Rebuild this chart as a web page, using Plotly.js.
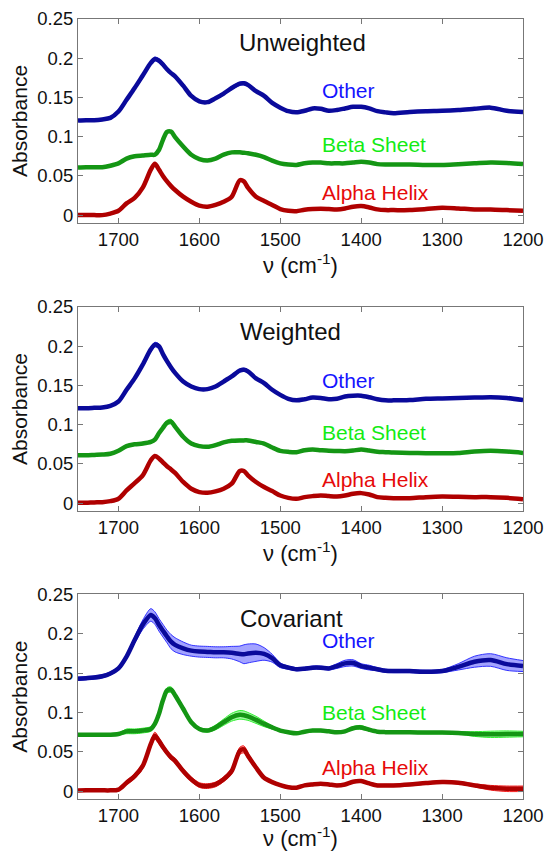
<!DOCTYPE html>
<html>
<head>
<meta charset="utf-8">
<script src="https://cdn.plot.ly/plotly-3.0.1.min.js"></script>
<style>html,body{margin:0;padding:0;background:#fff;}#chart{width:545px;height:851px;}</style>
</head>
<body>
<div id="chart"></div>
<script>
// Wavenumber grid (cm^-1)
const wavenumber = [1750,1740,1730,1720,1710,1700,1690,1680,1670,1660,1655,1650,1645,1640,1635,1630,1620,1610,1600,1590,1580,1570,1560,1550,1545,1540,1530,1520,1510,1500,1490,1480,1470,1460,1450,1440,1430,1420,1410,1400,1390,1380,1370,1360,1340,1320,1300,1280,1260,1240,1220,1200];

// Panel titles and series names
const panelTitles = ["Unweighted", "Weighted", "Covariant"];
const seriesNames = ["Other", "Beta Sheet", "Alpha Helix"];
const xTicks = [1700,1600,1500,1400,1300,1200];
const yTicks = [0,0.05,0.1,0.15,0.2,0.25];
const yTickText = ['0','0.05','0.1','0.15','0.2','0.25'];

// Unweighted
const U_other = [.1205,.121,.121,.122,.124,.132,.147,.162,.178,.194,.199,.197,.192,.186,.181,.177,.165,.152,.145,.144,.149,.155,.162,.1675,.168,.166,.158,.152,.143,.137,.1325,.131,.133,.136,.1355,.133,.134,.136,.138,.138,.136,.1325,.131,.130,.1315,.1325,.133,.134,.1355,.137,.133,.1315];
const U_other_err = [.001,.001,.001,.001,.001,.001,.0015,.002,.002,.002,.0025,.0025,.0025,.0025,.002,.002,.0015,.0015,.0015,.0015,.0015,.0015,.002,.002,.002,.002,.0015,.0015,.0015,.001,.001,.001,.001,.001,.001,.001,.001,.001,.001,.001,.001,.001,.001,.001,.001,.001,.001,.001,.0015,.0015,.0015,.001];
const U_beta = [.0607,.061,.061,.061,.063,.066,.072,.075,.076,.077,.077,.083,.096,.106,.1065,.0995,.0875,.077,.0715,.0695,.072,.077,.080,.080,.0795,.079,.077,.074,.0695,.066,.0645,.064,.066,.067,.067,.066,.066,.066,.067,.068,.067,.065,.0645,.0645,.0645,.064,.064,.065,.066,.067,.0665,.065];
const U_alpha = [0,0,0,0,.002,.0055,.015,.022,.035,.058,.0655,.058,.050,.043,.037,.032,.0235,.017,.012,.0107,.013,.017,.0235,.0445,.043,.035,.0235,.018,.013,.0077,.0055,.005,.0068,.0077,.008,.0077,.0073,.0085,.0107,.0115,.0098,.0073,.0064,.0064,.0064,.0077,.0094,.0085,.0073,.0073,.0064,.0055];

// Weighted
const W_other = [.121,.121,.1215,.122,.124,.1295,.1445,.159,.1765,.196,.202,.200,.190,.181,.173,.166,.155,.1487,.1453,.1453,.1487,.155,.1615,.169,.170,.168,.159,.153,.1445,.138,.133,.131,.1325,.1345,.134,.1325,.133,.136,.137,.137,.135,.1325,.131,.131,.1315,.133,.1335,.134,.1345,.135,.134,.1315];
const W_other_err = [.001,.001,.001,.001,.001,.001,.0015,.002,.002,.003,.003,.003,.003,.003,.0025,.002,.0015,.0015,.0015,.0015,.0015,.0015,.002,.002,.002,.002,.0015,.0015,.0015,.001,.001,.001,.001,.001,.001,.001,.001,.001,.001,.001,.001,.001,.001,.001,.001,.001,.001,.001,.001,.001,.001,.001];
const W_beta = [.061,.061,.0615,.062,.063,.0667,.0727,.075,.076,.078,.081,.089,.096,.1025,.104,.0975,.0846,.076,.0727,.0718,.074,.0774,.0795,.080,.080,.080,.078,.076,.071,.0667,.0654,.065,.0675,.0684,.0675,.0667,.0665,.0662,.067,.0684,.067,.0654,.065,.0645,.064,.0637,.0637,.064,.0658,.0667,.0658,.064];
const W_beta_err = [.001,.001,.001,.001,.001,.001,.0015,.0015,.0015,.0015,.002,.002,.0025,.003,.003,.0025,.002,.0015,.0015,.0015,.0015,.0015,.0015,.0015,.0015,.0015,.0015,.0015,.001,.001,.001,.001,.001,.001,.001,.001,.001,.001,.001,.001,.001,.001,.001,.001,.001,.001,.001,.001,.001,.001,.001,.001];
const W_alpha = [.0004,.0005,.001,.0013,.0026,.0056,.0162,.0256,.0355,.0547,.060,.057,.052,.047,.043,.0385,.027,.0184,.0141,.0132,.015,.0184,.0248,.041,.041,.0355,.027,.0205,.0154,.0098,.0068,.0056,.0077,.009,.0098,.009,.0085,.0098,.012,.0128,.011,.0077,.0068,.0064,.0064,.0077,.0085,.0081,.0077,.0077,.0068,.0051];

// Covariant
const C_other = [.143,.1436,.1444,.146,.1496,.156,.171,.192,.2115,.224,.220,.2115,.204,.1966,.190,.186,.1816,.1786,.1774,.177,.1765,.1765,.176,.1744,.174,.175,.176,.1744,.169,.160,.157,.155,.1556,.157,.157,.156,.159,.1624,.163,.159,.157,.155,.153,.1526,.1526,.1517,.1526,.158,.1645,.1667,.1615,.159];
const C_other_err = [.002,.002,.002,.002,.002,.002,.003,.004,.006,.008,.008,.008,.008,.008,.009,.009,.008,.007,.007,.007,.007,.007,.008,.010,.012,.012,.011,.008,.005,.003,.002,.002,.002,.002,.002,.002,.003,.004,.004,.003,.003,.002,.002,.002,.002,.002,.002,.004,.007,.008,.008,.007];
const C_beta = [.0718,.0718,.0718,.0718,.0718,.0726,.076,.076,.077,.079,.0855,.098,.1154,.128,.129,.122,.1047,.0876,.079,.077,.081,.0876,.094,.097,.0965,.095,.0906,.0855,.081,.077,.0748,.0735,.0756,.077,.077,.076,.0748,.076,.080,.081,.078,.0756,.075,.0748,.0748,.0744,.0744,.074,.0726,.0722,.0726,.0726];
const C_beta_err = [.001,.001,.001,.001,.001,.001,.003,.003,.003,.003,.003,.0035,.0035,.0035,.0035,.003,.003,.002,.002,.002,.003,.004,.005,.0055,.0055,.005,.0045,.0035,.002,.0015,.0015,.0015,.0015,.0015,.0015,.0015,.0015,.0015,.002,.0025,.0015,.0015,.0015,.0015,.0015,.0015,.0015,.0015,.003,.004,.004,.0035];
const C_alpha = [.0009,.001,.001,.001,.001,.002,.0107,.019,.032,.060,.0705,.064,.056,.049,.043,.0385,.0256,.015,.0077,.0064,.0085,.015,.0256,.0513,.053,.045,.030,.017,.0115,.0077,.005,.0043,.0073,.0085,.0094,.0085,.0073,.0085,.012,.0128,.0098,.0073,.0073,.0073,.0085,.0103,.0115,.0107,.0073,.0043,.003,.003];
const C_alpha_err = [.001,.001,.001,.001,.001,.001,.0025,.003,.0035,.004,.0045,.004,.0035,.003,.003,.003,.003,.003,.003,.003,.003,.003,.0035,.0045,.0045,.0035,.0025,.0015,.0015,.0015,.0015,.0015,.0015,.0015,.0015,.0015,.0015,.0015,.0015,.0015,.0015,.0015,.0015,.0015,.0015,.0015,.0015,.0015,.002,.003,.0035,.0035];

// Label positions (data coords per panel)
const titlePos = [[1472,0.220],[1487,0.219],[1486,0.220]];
const labelX = 1451;
const labelY = [[0.1594,0.0897,0.029],[0.156,0.090,0.030],[0.191,0.100,0.030]];

const lineColors = ["rgb(10,10,155)","rgb(20,150,20)","rgb(175,0,0)"];
const barColors = ["rgb(50,50,255)","rgb(50,240,50)","rgb(245,30,30)"];
const textColors = ["rgb(20,20,255)","rgb(20,235,20)","rgb(230,10,10)"];

const panels = [
  [[U_other,U_other_err],[U_beta,null],[U_alpha,null]],
  [[W_other,W_other_err],[W_beta,W_beta_err],[W_alpha,null]],
  [[C_other,C_other_err],[C_beta,C_beta_err],[C_alpha,C_alpha_err]]
];

const traces = [];
panels.forEach((panel, p) => {
  const xa = p === 0 ? 'x' : 'x' + (p + 1);
  const ya = p === 0 ? 'y' : 'y' + (p + 1);
  panel.forEach((s, k) => {
    const vals = s[0], err = s[1];
    if (err) {
      const up = vals.map((v, i) => v + err[i]);
      const lo = vals.map((v, i) => v - err[i]);
      traces.push({x: wavenumber, y: up, xaxis: xa, yaxis: ya, mode: 'lines',
        line: {color: barColors[k], width: 1, shape: 'spline', smoothing: 0.8},
        hoverinfo: 'skip', showlegend: false});
      traces.push({x: wavenumber, y: lo, xaxis: xa, yaxis: ya, mode: 'lines', fill: 'tonexty',
        fillcolor: barColors[k].replace('rgb', 'rgba').replace(')', ',0.45)'),
        line: {color: barColors[k], width: 1, shape: 'spline', smoothing: 0.8},
        hoverinfo: 'skip', showlegend: false});
    }
  });
  panel.forEach((s, k) => {
    traces.push({x: wavenumber, y: s[0], xaxis: xa, yaxis: ya, mode: 'lines', name: seriesNames[k],
      line: {color: lineColors[k], width: 4.5, shape: 'spline', smoothing: 0.8}, showlegend: false});
  });
});

const font = 'Liberation Sans, Arial, sans-serif';
const domains = [[0.7385,1],[0.3692,0.6308],[0,0.2622]];
const layout = {
  width: 545, height: 851,
  margin: {l: 77.5, r: 22.3, t: 19, b: 52},
  paper_bgcolor: '#fff', plot_bgcolor: '#fff',
  font: {family: font, color: '#111'},
  showlegend: false,
  annotations: []
};
for (let p = 0; p < 3; p++) {
  const sx = p === 0 ? '' : String(p + 1);
  layout['xaxis' + sx] = {
    domain: [0, 1], anchor: 'y' + sx, range: [1750, 1200], tickvals: xTicks,
    ticks: 'inside', ticklen: 5, tickcolor: '#777', showline: true, mirror: 'ticks',
    linecolor: '#777', linewidth: 1, showgrid: false, zeroline: false,
    tickfont: {size: 18.5, family: font, color: '#111'},
    title: {text: 'ν (cm<sup>-1</sup>)', font: {size: 22, family: font, color: '#111'}, standoff: 2}
  };
  layout['yaxis' + sx] = {
    domain: domains[p], anchor: 'x' + sx, range: [-0.01, 0.25], tickvals: yTicks,
    ticktext: yTickText,
    ticks: 'inside', ticklen: 5, tickcolor: '#777', showline: true, mirror: 'ticks',
    linecolor: '#777', linewidth: 1, showgrid: false, zeroline: false,
    tickfont: {size: 18.5, family: font, color: '#111'},
    title: {text: 'Absorbance', font: {size: 21, family: font, color: '#111'}, standoff: 3}
  };
  const xr = p === 0 ? 'x' : 'x' + (p + 1);
  const yr = p === 0 ? 'y' : 'y' + (p + 1);
  layout.annotations.push({xref: xr, yref: yr, x: titlePos[p][0], y: titlePos[p][1],
    text: panelTitles[p], showarrow: false, xanchor: 'center', yanchor: 'middle',
    font: {size: 24, family: font, color: '#111'}});
  for (let k = 0; k < 3; k++) {
    layout.annotations.push({xref: xr, yref: yr, x: labelX, y: labelY[p][k],
      text: seriesNames[k], showarrow: false, xanchor: 'left', yanchor: 'middle',
      font: {size: 21, family: font, color: textColors[k]}});
  }
}
Plotly.newPlot('chart', traces, layout, {displayModeBar: false, staticPlot: true});
</script>
</body>
</html>
